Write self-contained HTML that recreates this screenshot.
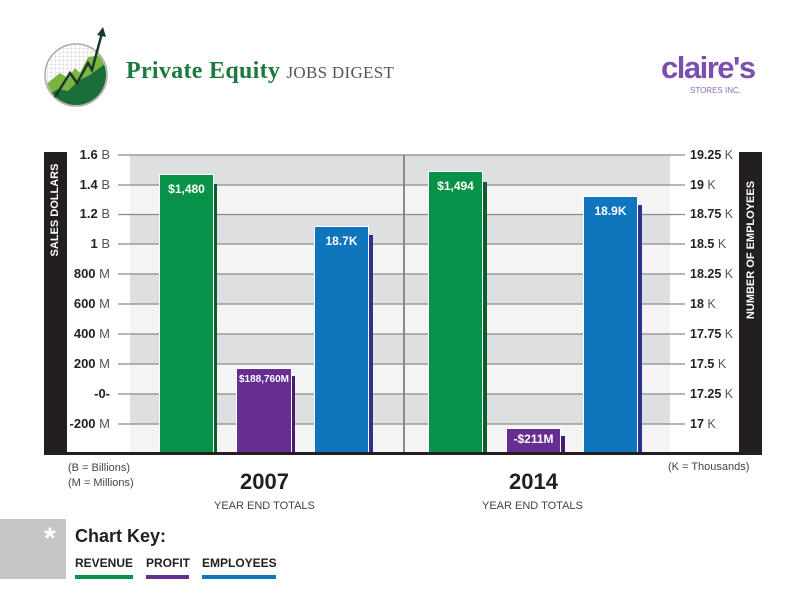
<!DOCTYPE html><html><head><style>
body{margin:0;width:792px;height:612px;background:#fff;font-family:"Liberation Sans",sans-serif;position:relative;overflow:hidden}
.a{position:absolute}
.bar{position:absolute;border:1px solid #fff;box-sizing:border-box;color:#fff;font-weight:bold;font-size:12px;text-align:center;padding-top:7px}
.sh{position:absolute}
.ll{position:absolute;right:682px;font-size:13px;font-weight:bold;color:#222;text-align:right}
.ll span,.rl span{font-weight:normal;color:#555}
.rl{position:absolute;left:690px;font-size:12.5px;font-weight:bold;color:#222}
</style></head><body>
<svg class="a" style="left:40px;top:25px" width="75" height="85" viewBox="0 0 75 85">
<defs><clipPath id="c"><circle cx="36" cy="50" r="30"/></clipPath><pattern id="g" width="4" height="4" patternUnits="userSpaceOnUse"><path d="M4 0V4M0 4H4" stroke="#bbb" stroke-width="0.6" fill="none"/></pattern></defs>
<circle cx="36" cy="50" r="31" fill="#fff" stroke="#aaa" stroke-width="1.5"/>
<g clip-path="url(#c)"><rect x="0" y="15" width="75" height="70" fill="url(#g)"/>
<path d="M5 60 L20 48 L28 53 L35 43 L40 48 L48 32 L60 30 L70 20 L70 85 L5 85Z" fill="#7cb342"/>
<path d="M5 72 L18 64 L28 66 L38 56 L50 50 L70 35 L70 85 L5 85Z" fill="#1b6e3a"/></g>
<path d="M15 72 L30 48 L37 58 L48 38 L52 45 L62 8" stroke="#173a2a" stroke-width="2.5" fill="none"/>
<path d="M57 10 L63 2 L66 12Z" fill="#173a2a"/>
</svg>
<div class="a" style="left:126px;top:58px;font-family:'Liberation Serif',serif;font-weight:bold;font-size:24px;color:#1c7a3f;letter-spacing:0.3px">Private Equity <span style="font-weight:normal;font-size:17px;color:#555">JOBS DIGEST</span></div>
<div class="a" style="left:661px;top:50px;font-size:31px;font-weight:bold;color:#7b4fb0;letter-spacing:-1.5px">claire's</div>
<div class="a" style="left:690px;top:86px;font-size:8px;color:#8a6bbd">STORES INC.</div>

<div class="a" style="left:130px;top:155px;width:540px;height:298px;background:#f4f4f5"></div>
<div class="a" style="left:130px;top:155px;width:540px;height:30px;background:#dedfe1"></div>
<div class="a" style="left:130px;top:214px;width:540px;height:30px;background:#dedfe1"></div>
<div class="a" style="left:130px;top:274px;width:540px;height:30px;background:#dedfe1"></div>
<div class="a" style="left:130px;top:334px;width:540px;height:30px;background:#dedfe1"></div>
<div class="a" style="left:130px;top:394px;width:540px;height:30px;background:#dedfe1"></div>
<svg class="a" style="left:0;top:0" width="792" height="612">
<g stroke="#8a8a8a" stroke-width="1.3">
<line x1="118" y1="155" x2="685" y2="155"/><line x1="118" y1="185" x2="685" y2="185"/><line x1="118" y1="214.5" x2="685" y2="214.5"/><line x1="118" y1="244" x2="685" y2="244"/><line x1="118" y1="274" x2="685" y2="274"/><line x1="118" y1="304" x2="685" y2="304"/><line x1="118" y1="334" x2="685" y2="334"/><line x1="118" y1="364" x2="685" y2="364"/><line x1="118" y1="394" x2="685" y2="394"/><line x1="118" y1="424" x2="685" y2="424"/>
<line x1="404" y1="155" x2="404" y2="453" stroke-width="2"/></g>
</svg>
<div class="a" style="left:44px;top:152px;width:23px;height:301px;background:#231f20"></div>
<div class="a" style="left:739px;top:152px;width:23px;height:301px;background:#231f20"></div>
<div class="a" style="left:55px;top:210px;transform:translate(-50%,-50%) rotate(-90deg);color:#fff;font-weight:bold;font-size:11px;white-space:nowrap">SALES DOLLARS</div>
<div class="a" style="left:751px;top:250px;transform:translate(-50%,-50%) rotate(-90deg);color:#fff;font-weight:bold;font-size:11px;white-space:nowrap">NUMBER OF EMPLOYEES</div>

<div class="ll" style="top:147px">1.6 <span>B</span></div>
<div class="ll" style="top:177px">1.4 <span>B</span></div>
<div class="ll" style="top:206px">1.2 <span>B</span></div>
<div class="ll" style="top:236px">1 <span>B</span></div>
<div class="ll" style="top:266px">800 <span>M</span></div>
<div class="ll" style="top:296px">600 <span>M</span></div>
<div class="ll" style="top:326px">400 <span>M</span></div>
<div class="ll" style="top:356px">200 <span>M</span></div>
<div class="ll" style="top:386px">-0-</div>
<div class="ll" style="top:416px">-200 <span>M</span></div>
<div class="rl" style="top:148px">19.25 <span>K</span></div>
<div class="rl" style="top:178px">19 <span>K</span></div>
<div class="rl" style="top:207px">18.75 <span>K</span></div>
<div class="rl" style="top:237px">18.5 <span>K</span></div>
<div class="rl" style="top:267px">18.25 <span>K</span></div>
<div class="rl" style="top:297px">18 <span>K</span></div>
<div class="rl" style="top:327px">17.75 <span>K</span></div>
<div class="rl" style="top:357px">17.5 <span>K</span></div>
<div class="rl" style="top:387px">17.25 <span>K</span></div>
<div class="rl" style="top:417px">17 <span>K</span></div>

<div class="sh" style="left:213px;top:184px;width:4px;height:270px;background:#0b5e30"></div>
<div class="bar" style="left:159px;top:174px;width:55px;height:280px;background:#079247">$1,480</div>
<div class="sh" style="left:291px;top:376px;width:4px;height:78px;background:#4b1a74"></div>
<div class="bar" style="left:236px;top:368px;width:56px;height:86px;background:#672d91;font-size:10px;padding-top:5px">$188,760M</div>
<div class="sh" style="left:369px;top:235px;width:4px;height:219px;background:#2e3192"></div>
<div class="bar" style="left:314px;top:226px;width:55px;height:228px;background:#0f75bc">18.7K</div>
<div class="sh" style="left:483px;top:182px;width:4px;height:272px;background:#0b5e30"></div>
<div class="bar" style="left:428px;top:171px;width:55px;height:283px;background:#079247">$1,494</div>
<div class="sh" style="left:561px;top:436px;width:4px;height:18px;background:#4b1a74"></div>
<div class="bar" style="left:506px;top:428px;width:55px;height:26px;background:#672d91;padding-top:3px">-$211M</div>
<div class="sh" style="left:638px;top:205px;width:4px;height:249px;background:#2e3192"></div>
<div class="bar" style="left:583px;top:196px;width:55px;height:258px;background:#0f75bc">18.9K</div>
<div class="a" style="left:44px;top:452px;width:718px;height:3px;background:#231f20"></div>

<div class="a" style="left:68px;top:461px;font-size:11px;color:#444;line-height:15px">(B = Billions)<br>(M = Millions)</div>
<div class="a" style="left:668px;top:461px;font-size:11px;color:#444">(K = Thousands)</div>
<div class="a" style="left:240px;top:469px;font-size:22px;font-weight:bold;color:#231f20">2007</div>
<div class="a" style="left:214px;top:500px;font-size:11px;color:#444">YEAR END TOTALS</div>
<div class="a" style="left:509px;top:469px;font-size:22px;font-weight:bold;color:#231f20">2014</div>
<div class="a" style="left:482px;top:500px;font-size:11px;color:#444">YEAR END TOTALS</div>

<div class="a" style="left:0;top:519px;width:66px;height:60px;background:#c4c5c7"></div>
<div class="a" style="left:44px;top:522px;font-size:30px;font-weight:bold;color:#fff">*</div>
<div class="a" style="left:75px;top:526px;font-size:18px;font-weight:bold;color:#231f20">Chart Key:</div>
<div class="a" style="left:75px;top:556px;font-size:12px;font-weight:bold;color:#231f20">REVENUE</div>
<div class="a" style="left:146px;top:556px;font-size:12px;font-weight:bold;color:#231f20">PROFIT</div>
<div class="a" style="left:202px;top:556px;font-size:12px;font-weight:bold;color:#231f20">EMPLOYEES</div>
<div class="a" style="left:75px;top:575px;width:58px;height:4px;background:#079247"></div>
<div class="a" style="left:146px;top:575px;width:43px;height:4px;background:#672d91"></div>
<div class="a" style="left:202px;top:575px;width:74px;height:4px;background:#0f75bc"></div>
</body></html>
